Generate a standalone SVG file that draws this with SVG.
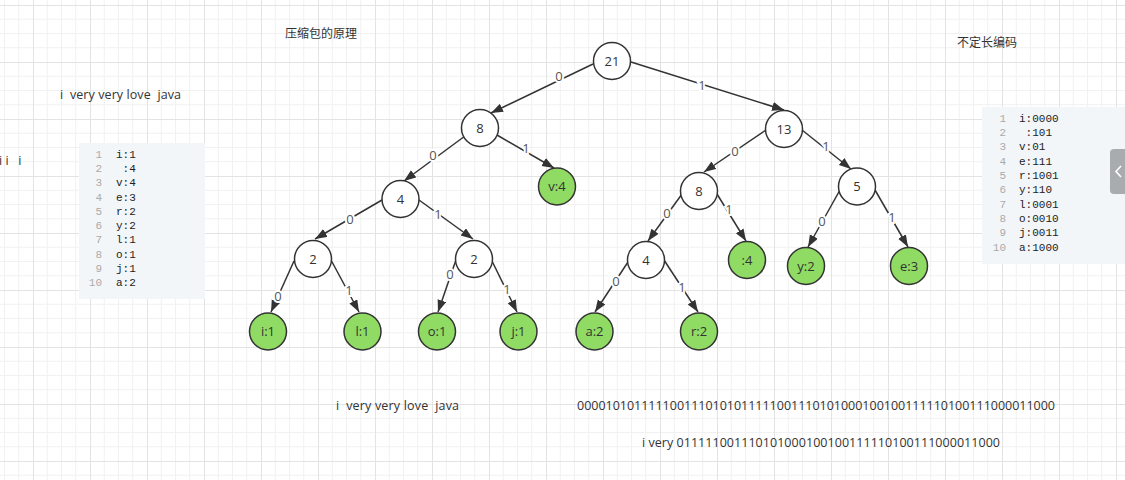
<svg xmlns="http://www.w3.org/2000/svg" width="1125" height="480" viewBox="0 0 1125 480">
<style>
.t{font-family:"Open Sans","Noto Sans CJK SC",sans-serif;font-size:12.5px;fill:#333}
.cjk{font-family:"Noto Sans CJK SC",sans-serif;font-size:12px;fill:#333}
.node circle{stroke:#333;stroke-width:1.5;fill:#fff}
.node.leaf circle{fill:#8fdb63}
.node text{font-family:"Open Sans","Noto Sans CJK SC",sans-serif;font-size:13px;fill:#333;text-anchor:middle}
.edges line{stroke:#333;stroke-width:1.5;marker-end:url(#arr)}
.lbl{font-family:"Open Sans",sans-serif;font-size:13px;fill:#555;text-anchor:middle;stroke:#fff;stroke-width:4;paint-order:stroke}
.ln{font-family:"Liberation Mono",monospace;font-size:11px;fill:#aaa;text-anchor:end}
.code{font-family:"Liberation Mono",monospace;font-size:11px;fill:#222;white-space:pre}
</style>
<defs>
<pattern id="grid" patternUnits="userSpaceOnUse" x="33" y="5" width="57" height="57">
<path d="M14.25 0V57M28.5 0V57M42.75 0V57M0 14.25H57M0 28.5H57M0 42.75H57" stroke="#f1f1f1" stroke-width="1" fill="none"/>
<path d="M0.5 0V57M0 0.5H57" stroke="#e3e3e3" stroke-width="1" fill="none"/>
</pattern>
<marker id="arr" markerUnits="userSpaceOnUse" markerWidth="13" markerHeight="10" refX="12" refY="4.5" orient="auto">
<path d="M0,0 L12,4.5 L0,9 Z" fill="#333"/>
</marker>
</defs>
<rect width="1125" height="480" fill="#fff"/>
<rect width="1125" height="480" fill="url(#grid)"/>

<g id="texts">
<text class="cjk" x="285" y="38">压缩包的原理</text>
<text class="cjk" x="957" y="47">不定长编码</text>
<text class="t" x="60" y="99" textLength="121" xml:space="preserve">i  very very love  java</text>
<text class="t" x="-1" y="165" xml:space="preserve">i i   i</text>
<text class="t" x="336" y="410" textLength="123" xml:space="preserve">i  very very love  java</text>
<text class="t" x="577" y="410" textLength="478">0000101011111001110101011111001110101000100100111110100111000011000</text>
<text class="t" x="642" y="447" textLength="358">i very 011111001110101000100100111110100111000011000</text>
</g>

<g id="panel-left">
<rect x="79" y="143" width="126" height="156" fill="#f3f6f9"/>
<text class="ln" x="102" y="158">1</text><text class="code" x="116" y="158">i:1</text>
<text class="ln" x="102" y="172">2</text><text class="code" x="116" y="172" xml:space="preserve"> :4</text>
<text class="ln" x="102" y="186">3</text><text class="code" x="116" y="186">v:4</text>
<text class="ln" x="102" y="201">4</text><text class="code" x="116" y="201">e:3</text>
<text class="ln" x="102" y="215">5</text><text class="code" x="116" y="215">r:2</text>
<text class="ln" x="102" y="229">6</text><text class="code" x="116" y="229">y:2</text>
<text class="ln" x="102" y="243">7</text><text class="code" x="116" y="243">l:1</text>
<text class="ln" x="102" y="258">8</text><text class="code" x="116" y="258">o:1</text>
<text class="ln" x="102" y="272">9</text><text class="code" x="116" y="272">j:1</text>
<text class="ln" x="102" y="286">10</text><text class="code" x="116" y="286">a:2</text>
</g>

<g id="panel-right">
<rect x="982" y="107" width="143" height="157" fill="#f3f6f9"/>
<text class="ln" x="1006" y="122">1</text><text class="code" x="1019" y="122">i:0000</text>
<text class="ln" x="1006" y="136">2</text><text class="code" x="1019" y="136" xml:space="preserve"> :101</text>
<text class="ln" x="1006" y="150">3</text><text class="code" x="1019" y="150">v:01</text>
<text class="ln" x="1006" y="165">4</text><text class="code" x="1019" y="165">e:111</text>
<text class="ln" x="1006" y="179">5</text><text class="code" x="1019" y="179">r:1001</text>
<text class="ln" x="1006" y="193">6</text><text class="code" x="1019" y="193">y:110</text>
<text class="ln" x="1006" y="208">7</text><text class="code" x="1019" y="208">l:0001</text>
<text class="ln" x="1006" y="222">8</text><text class="code" x="1019" y="222">o:0010</text>
<text class="ln" x="1006" y="236">9</text><text class="code" x="1019" y="236">j:0011</text>
<text class="ln" x="1006" y="251">10</text><text class="code" x="1019" y="251">a:1000</text>
<path d="M1125 149H1114Q1110 149 1110 153V190Q1110 194 1114 194H1125Z" fill="#a8acaf"/>
<path d="M1121 166L1116 171.5L1121 177" stroke="#fff" stroke-width="1.6" fill="none"/>
</g>

<g class="edges" id="connectors">
<line x1="593" y1="64" x2="491" y2="113"/>
<line x1="631" y1="62" x2="784" y2="110"/>
<line x1="465" y1="136" x2="404" y2="181"/>
<line x1="497" y1="135" x2="554" y2="168"/>
<line x1="766" y1="130" x2="704" y2="172"/>
<line x1="802" y1="130" x2="851" y2="169"/>
<line x1="382" y1="200" x2="315" y2="239"/>
<line x1="419" y1="200" x2="473" y2="239"/>
<line x1="682" y1="194" x2="648" y2="241"/>
<line x1="717" y1="194" x2="746" y2="241"/>
<line x1="840" y1="190" x2="808" y2="247"/>
<line x1="875" y1="190" x2="908" y2="247"/>
<line x1="294" y1="261" x2="271" y2="312"/>
<line x1="331" y1="260" x2="359" y2="312"/>
<line x1="457" y1="257" x2="438" y2="312"/>
<line x1="492" y1="261" x2="517" y2="312"/>
<line x1="628" y1="262" x2="595" y2="312"/>
<line x1="664" y1="260" x2="698" y2="312"/>
<g>
<text class="lbl" x="559" y="81">0</text>
<text class="lbl" x="702" y="90">1</text>
<text class="lbl" x="433" y="160">0</text>
<text class="lbl" x="526" y="153">1</text>
<text class="lbl" x="735" y="156">0</text>
<text class="lbl" x="826" y="151">1</text>
<text class="lbl" x="350" y="224">0</text>
<text class="lbl" x="438" y="219">1</text>
<text class="lbl" x="667" y="218">0</text>
<text class="lbl" x="729" y="214">1</text>
<text class="lbl" x="822" y="226">0</text>
<text class="lbl" x="892" y="222">1</text>
<text class="lbl" x="278" y="301">0</text>
<text class="lbl" x="349" y="295">1</text>
<text class="lbl" x="450" y="279">0</text>
<text class="lbl" x="507" y="294">1</text>
<text class="lbl" x="616" y="286">0</text>
<text class="lbl" x="682" y="292">1</text>
</g>
</g>

<g id="n21" class="node"><circle cx="612" cy="61" r="18.5"/><text x="612" y="65.5">21</text></g>
<g id="n8a" class="node"><circle cx="480" cy="128" r="18.5"/><text x="480" y="132.5">8</text></g>
<g id="n13" class="node"><circle cx="784" cy="129" r="18.5"/><text x="784" y="133.5">13</text></g>
<g id="n4a" class="node"><circle cx="400.5" cy="199" r="18.5"/><text x="400.5" y="203.5">4</text></g>
<g id="nv4" class="node leaf"><circle cx="557" cy="186.5" r="18.5"/><text x="557" y="191">v:4</text></g>
<g id="n8b" class="node"><circle cx="699" cy="191" r="18.5"/><text x="699" y="195.5">8</text></g>
<g id="n5" class="node"><circle cx="857" cy="186.5" r="18.5"/><text x="857" y="191">5</text></g>
<g id="n2a" class="node"><circle cx="313" cy="259" r="18.5"/><text x="313" y="263.5">2</text></g>
<g id="n2b" class="node"><circle cx="474" cy="259" r="18.5"/><text x="474" y="263.5">2</text></g>
<g id="n4b" class="node"><circle cx="646" cy="260" r="18.5"/><text x="646" y="264.5">4</text></g>
<g id="nsp4" class="node leaf"><circle cx="747" cy="260" r="18.5"/><text x="747" y="264.5">:4</text></g>
<g id="ny2" class="node leaf"><circle cx="806" cy="266" r="18.5"/><text x="806" y="270.5">y:2</text></g>
<g id="ne3" class="node leaf"><circle cx="909" cy="266" r="18.5"/><text x="909" y="270.5">e:3</text></g>
<g id="ni1" class="node leaf"><circle cx="268" cy="331.5" r="18.5"/><text x="268" y="336">i:1</text></g>
<g id="nl1" class="node leaf"><circle cx="362.5" cy="331.5" r="18.5"/><text x="362.5" y="336">l:1</text></g>
<g id="no1" class="node leaf"><circle cx="437" cy="331.5" r="18.5"/><text x="437" y="336">o:1</text></g>
<g id="nj1" class="node leaf"><circle cx="518.5" cy="331.5" r="18.5"/><text x="518.5" y="336">j:1</text></g>
<g id="na2" class="node leaf"><circle cx="594.5" cy="331.5" r="18.5"/><text x="594.5" y="336">a:2</text></g>
<g id="nr2" class="node leaf"><circle cx="699" cy="331.5" r="18.5"/><text x="699" y="336">r:2</text></g>
</svg>
